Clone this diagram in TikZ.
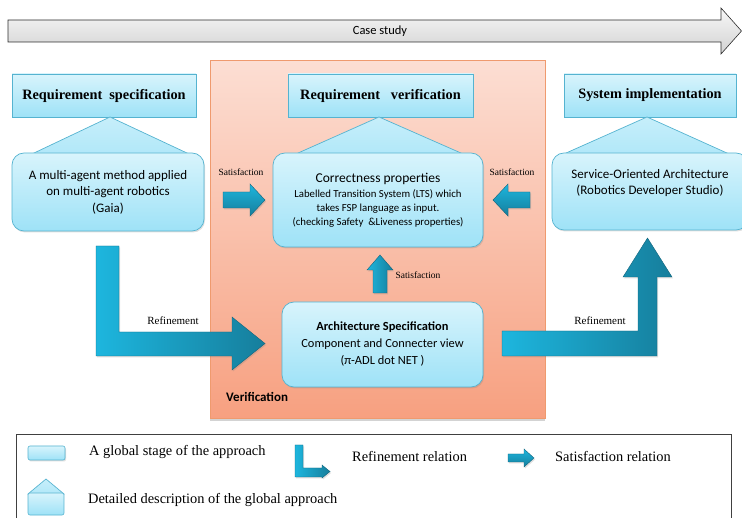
\documentclass[tikz,border=0pt]{standalone}
\usepackage{fontspec}
\setmainfont{Liberation Serif}
\newfontfamily\carl{Carlito}
\usetikzlibrary{shadows}
\definecolor{boxtop}{HTML}{D8F4FC}
\definecolor{boxbot}{HTML}{9EE2F7}
\definecolor{boxline}{HTML}{55B3D0}
\definecolor{orgtop}{HTML}{FCDED3}
\definecolor{orgbot}{HTML}{F7A080}
\definecolor{orgline}{HTML}{EF9A6E}
\definecolor{arrA}{HTML}{1DB6DE}
\definecolor{arrB}{HTML}{167E9C}
\begin{document}
\begin{tikzpicture}[x=1pt,y=-1pt,
  shd/.style={drop shadow={opacity=0.25,shadow xshift=1pt,shadow yshift=-1.5pt}},
  hdr/.style={draw=boxline,line width=0.7pt,top color=boxtop,bottom color=boxbot,
    minimum width=#1,minimum height=43pt,inner sep=0pt,shd,
    font=\bfseries\fontsize{14.3}{16}\selectfont},
  rbox/.style={draw=boxline,line width=0.7pt,top color=boxtop,bottom color=boxbot,
    rounded corners=12pt,inner sep=0pt,align=center,shd},
  tri/.style={draw=boxline,line width=0.7pt,top color=boxtop!70!boxbot,bottom color=boxbot!80!white},
  blk/.style={draw=arrB!80!black,line width=0.4pt,left color=arrA,right color=arrB,shd},
  blkv/.style={draw=arrB!80!black,line width=0.4pt,top color=arrA,bottom color=arrB,shd},
  lbl/.style={font=\fontsize{9.5}{11}\selectfont},
  rlbl/.style={font=\fontsize{11}{13}\selectfont},
  leg/.style={font=\fontsize{14.4}{16}\selectfont,anchor=west,inner sep=0pt}]
\useasboundingbox (0,0) rectangle (742,518);
% case study arrow
\draw[draw=gray!35!black,line width=0.6pt,top color=gray!6,bottom color=gray!35]
  (8,20) -- (721,20) -- (721,8) -- (741.5,31) -- (721,54) -- (721,42) -- (8,42) -- cycle;
\node[font=\carl\fontsize{12.5}{14}\selectfont] (case) at (380,31) {Case study};
% verification area
\node[draw=orgline,line width=0.8pt,top color=orgtop,bottom color=orgbot,
  minimum width=335pt,minimum height=358pt,anchor=north west,inner sep=0pt,
  drop shadow={opacity=0.35,shadow xshift=0pt,shadow yshift=-2.5pt}] (verif) at (210,60) {};
\node[font=\carl\bfseries\fontsize{13}{15}\selectfont,anchor=west,inner sep=0pt] (veriflbl) at (226,397) {Verification};
% headers
\node[hdr=184pt] (spechead) at (104,95.5) {Requirement\ \ specification};
\node[hdr=185pt] (verhead) at (380.5,95.5) {Requirement\ \ \ verification};
\node[hdr=172pt] (imphead) at (650,95.5) {System implementation};
% triangles
\draw[tri] (110,117) -- (188,153.5) -- (33,153.5) -- cycle;
\draw[tri] (379,117) -- (462,153.5) -- (297,153.5) -- cycle;
\draw[tri] (647,117) -- (728,153.5) -- (565,153.5) -- cycle;
% rounded boxes
\node[rbox,minimum width=192pt,minimum height=78pt,font=\carl\fontsize{13}{16.5}\selectfont]
  (specbox) at (108,192) {A multi-agent method applied\\on multi-agent robotics\\(Gaia)};
\node[rbox,minimum width=210pt,minimum height=94pt,font=\carl\fontsize{10.8}{14}\selectfont]
  (corrbox) at (378,200) {{\fontsize{13.5}{15}\selectfont Correctness properties}\\[1pt]Labelled Transition System (LTS) which\\takes FSP language as input.\\(checking Safety\ \ \&Liveness properties)};
\node[rbox,minimum width=196pt,minimum height=77pt,font=\carl\fontsize{13}{16}\selectfont]
  (impbox) at (650,191.5) {Service-Oriented Architecture\\(Robotics Developer Studio)\\[4pt]};
\node[rbox,minimum width=201pt,minimum height=85pt,font=\carl\fontsize{12.4}{17}\selectfont]
  (archbox) at (382.5,344.5) {\textbf{Architecture Specification}\\Component and Connecter view\\(π-ADL dot NET )};
% refinement arrows
\draw[blk] (96,246) -- (119,246) -- (119,332) -- (232,332) -- (232,317) -- (265,343.5)
  -- (232,370) -- (232,356) -- (96,356) -- cycle;
\draw[blk] (502,331) -- (638,331) -- (638,277) -- (623,277) -- (647.5,238) -- (672,277)
  -- (657,277) -- (657,356) -- (502,356) -- cycle;
\node[rlbl] (refL) at (173,321) {Refinement};
\node[rlbl] (refR) at (600,321) {Refinement};
% satisfaction arrows
\draw[blkv] (223,192) -- (250,192) -- (250,184) -- (265,200) -- (250,216) -- (250,208) -- (223,208) -- cycle;
\draw[blkv] (530,192) -- (508,192) -- (508,184) -- (493,200) -- (508,216) -- (508,208) -- (530,208) -- cycle;
\draw[blk] (373,293) -- (373,270) -- (367,270) -- (380,255) -- (393,270) -- (387,270) -- (387,293) -- cycle;
\node[lbl] (satL) at (241,172) {Satisfaction};
\node[lbl] (satR) at (512,172) {Satisfaction};
\node[lbl] (satU) at (418,275) {Satisfaction};
% legend
\node[draw=gray!50!black,line width=0.8pt,fill=white,anchor=north west,inner sep=0pt,
  minimum width=715pt,minimum height=100pt] (legend) at (16,434) {};
\node[draw=boxline,line width=0.6pt,rounded corners=2pt,top color=boxtop,bottom color=boxbot,
  minimum width=37pt,minimum height=14pt,inner sep=0pt,shd] (lgbox) at (46.5,453) {};
\node[leg] (lgboxt) at (89,452) {A global stage of the approach};
\draw[blk] (295,445) -- (303,445) -- (303,468) -- (322,468) -- (322,465) -- (330,471.5)
  -- (322,478) -- (322,477) -- (295,477) -- cycle;
\node[leg] (lgreft) at (352,457) {Refinement relation};
\draw[blkv] (508,454) -- (524,454) -- (524,449) -- (534,458) -- (524,467) -- (524,462) -- (508,462) -- cycle;
\node[leg] (lgsatt) at (555,457) {Satisfaction relation};
\draw[tri] (46,479) -- (64,494) -- (28,494) -- cycle;
\node[draw=boxline,line width=0.6pt,rounded corners=2pt,top color=boxtop,bottom color=boxbot,
  minimum width=36pt,minimum height=22pt,inner sep=0pt] (lgpent) at (46,504) {};
\node[leg] (lgpentt) at (88,500) {Detailed description of the global approach};
\end{tikzpicture}
\end{document}
